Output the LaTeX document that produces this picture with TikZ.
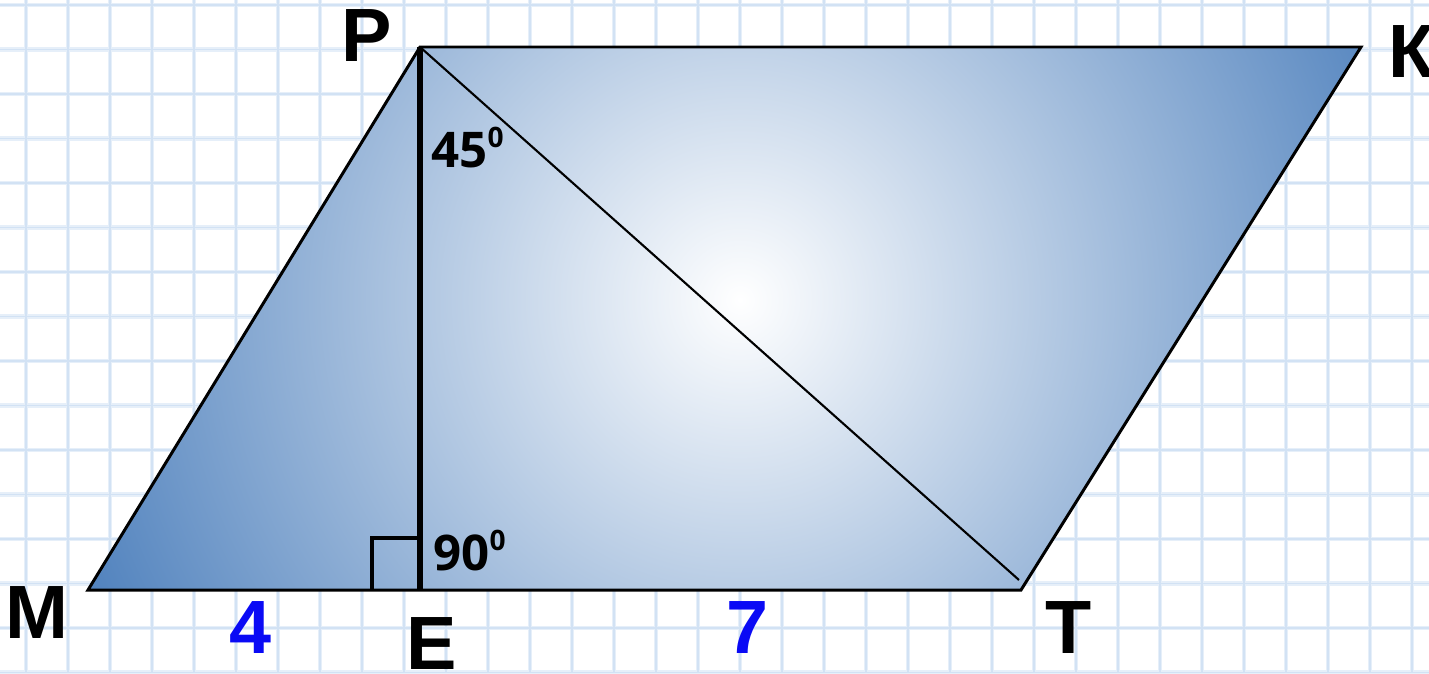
\documentclass[tikz,border=0pt]{standalone}
\usepackage{fontspec}
\setmainfont{Liberation Sans}
\newfontfamily\numfont{Open Sans}
\definecolor{gridA}{RGB}{230,239,249}
\definecolor{gridB}{RGB}{210,226,244}
\definecolor{fillout}{RGB}{79,129,189}
\definecolor{numblue}{RGB}{10,10,245}
\tikzset{
  lbl/.style={inner sep=0pt, font=\fontsize{43}{43}\selectfont\bfseries},
  num/.style={inner sep=0pt, text=numblue, font=\fontsize{43}{43}\selectfont\bfseries},
  ang/.style={inner sep=0pt, anchor=base west, font=\numfont\fontsize{28}{28}\selectfont\bfseries},
  edge/.style={line width=1.7pt, line join=miter},
}
\newcommand{\degsup}{\raisebox{11.3pt}{\fontsize{16}{16}\selectfont 0}}
\begin{document}
\begin{tikzpicture}[x=0.02cm,y=-0.02cm]
\useasboundingbox (0,0) rectangle (1429,673);
\fill[white] (0,0) rectangle (1429,673);
% grid
\foreach \i in {0,...,33} {
  \draw[gridA, line width=2.8pt] (26+42*\i,0) -- (26+42*\i,673);
}
\foreach \j in {0,...,15} {
  \draw[gridA, line width=2.8pt] (0,5+44.5*\j) -- (1429,5+44.5*\j);
}
\foreach \i in {0,...,33} {
  \draw[gridB, line width=0.8pt] (26+42*\i,0) -- (26+42*\i,673);
}
\foreach \j in {0,...,15} {
  \draw[gridB, line width=0.8pt] (0,5+44.5*\j) -- (1429,5+44.5*\j);
}
% points
\coordinate (M) at (88,590);
\coordinate (E) at (420,590);
\coordinate (T) at (1021,590);
\coordinate (P) at (420,47);
\coordinate (K) at (1361,47);
\coordinate (Dend) at (1019,580);
\coordinate (C) at (740,300);
\coordinate (Q1) at (372,590);
\coordinate (Q2) at (372,538);
\coordinate (Q3) at (420,538);
% gradient fill
\begin{scope}
  \clip (M) -- (P) -- (K) -- (T) -- cycle;
  \shade[inner color=white, outer color=fillout] (C) circle (720);
\end{scope}
% diagonal
\draw[line width=1.2pt] (P) -- (Dend);
% right angle
\draw[line width=1.9pt] (Q1) -- (Q2) -- (Q3);
% altitude
\draw[line width=3pt] (P) -- (E);
% outline
\draw[edge] (M) -- (P) -- (K) -- (T) -- cycle;
% labels
\node[lbl] (lP) at (367,36) {P};
\node[lbl] (lK) at (1412,52) {К};
\node[lbl] (lM) at (37,612) {M};
\node[lbl] (lE) at (432,643) {E};
\node[lbl] (lT) at (1069,628) {T};
\node[num] (n4) at (251,628) {4};
\node[num] (n7) at (747,628) {7};
\node[ang] (a45) at (431,167) {45\degsup};
\node[ang] (a90) at (433,570) {90\degsup};
\end{tikzpicture}
\end{document}
